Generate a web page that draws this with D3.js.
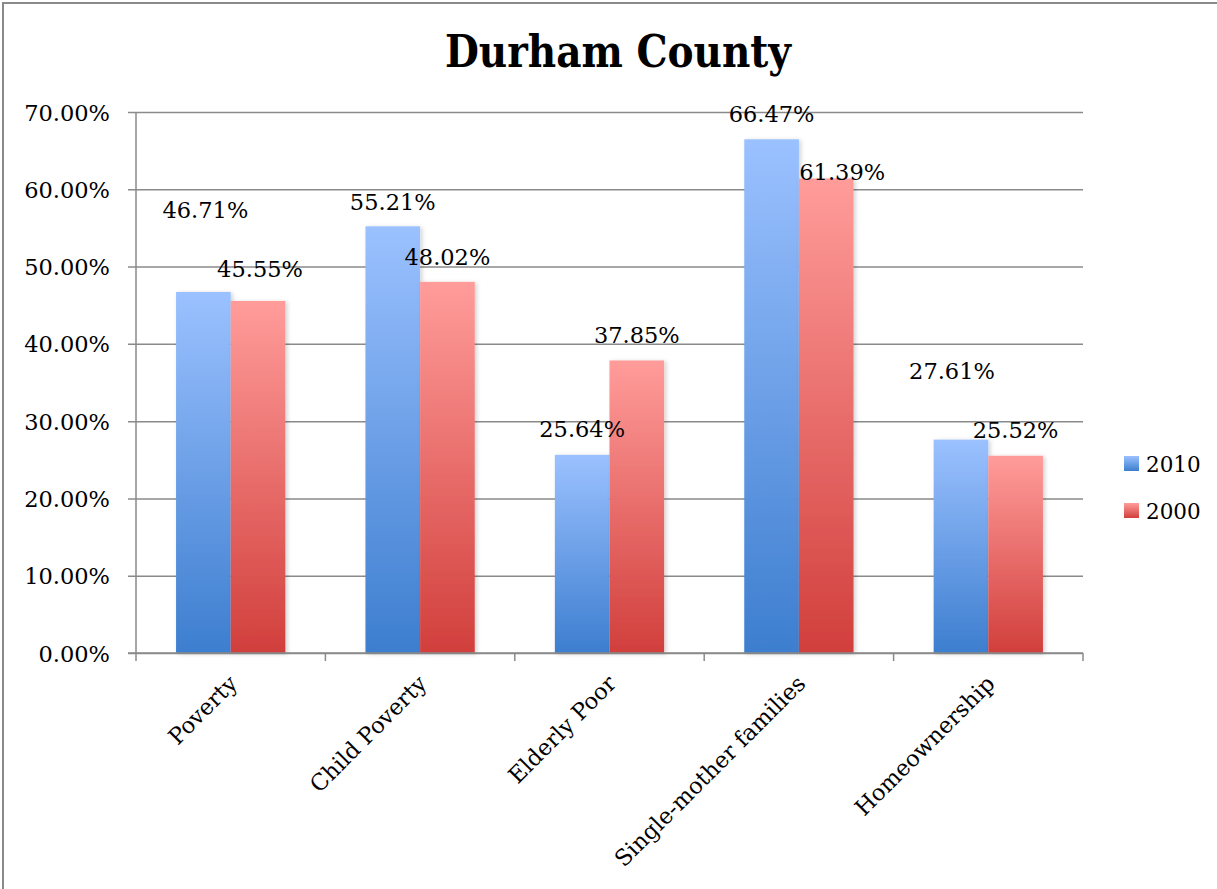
<!DOCTYPE html>
<html>
<head>
<meta charset="utf-8">
<script src="https://cdn.jsdelivr.net/npm/d3@7"></script>
<style>
  html, body { margin: 0; padding: 0; background: #fff; }
  svg { display: block; }
  text { font-family: "DejaVu Serif", "Liberation Serif", serif; fill: #000; }
</style>
</head>
<body>
<script>
// ---- data ----
const title = "Durham County";
const categories = ["Poverty", "Child Poverty", "Elderly Poor", "Single-mother families", "Homeownership"];
const seriesNames = ["2010", "2000"];
const values2010 = [46.71, 55.21, 25.64, 66.47, 27.61];
const values2000 = [45.55, 48.02, 37.85, 61.39, 25.52];
const yTicks = [0, 10, 20, 30, 40, 50, 60, 70];

// ---- layout (label nudges in px, per category: [2010, 2000]) ----
const labelNudge = [
  [[2, -74], [2, -24]],
  [[0, -16], [0, -17]],
  [[0, -18], [0, -17]],
  [[0, -17], [16, 1.5]],
  [[-9, -61], [0, -18]]
];

const W = 1217, H = 889;
const m = { left: 136, right: 1083, top: 112, bottom: 653 };

const svg = d3.select("body").append("svg").attr("width", W).attr("height", H);

const defs = svg.append("defs");
const grads = [
  { id: "g2010", top: "#9bc1ff", bottom: "#3d7ecf" },
  { id: "g2000", top: "#ff9c9a", bottom: "#d13f3c" }
];
grads.forEach(g => {
  const lg = defs.append("linearGradient").attr("id", g.id)
    .attr("x1", 0).attr("y1", 0).attr("x2", 0).attr("y2", 1);
  lg.append("stop").attr("offset", "0%").attr("stop-color", g.top);
  lg.append("stop").attr("offset", "100%").attr("stop-color", g.bottom);
});
const f = defs.append("filter").attr("id", "shadow")
  .attr("x", "-20%").attr("y", "-5%").attr("width", "150%").attr("height", "115%");
f.append("feDropShadow").attr("dx", 2).attr("dy", 1).attr("stdDeviation", 2)
  .attr("flood-color", "#000").attr("flood-opacity", 0.18);

// chart frame
svg.append("path")
  .attr("d", `M3,${H + 5} L3,3 L${W + 5},3`)
  .attr("fill", "none").attr("stroke", "#8a8a8a").attr("stroke-width", 2);

const x = d3.scaleBand().domain(categories).range([m.left, m.right]).paddingInner(0).paddingOuter(0);
const groupPad = 0.2115;
const innerW = x.bandwidth() * (1 - 2 * groupPad);
const x1 = d3.scaleBand().domain(seriesNames)
  .range([x.bandwidth() * groupPad, x.bandwidth() * groupPad + innerW]).padding(0);

const y = d3.scaleLinear().domain([0, 70]).range([m.bottom, m.top]);

// gridlines + y axis labels
const yAxis = d3.axisLeft(y).tickValues(yTicks)
  .tickSize(-(m.right - m.left + 8)).tickPadding(18)
  .tickFormat(d => d.toFixed(2) + "%");
const gy = svg.append("g").attr("transform", `translate(${m.left - 8},0)`).call(yAxis);
gy.select(".domain").remove();
gy.selectAll(".tick line").attr("stroke", "#8a8a8a").attr("stroke-width", 1.5);
gy.selectAll(".tick text").attr("font-size", 22.5)
  .style("font-family", '"DejaVu Serif", serif').attr("fill", "#000").attr("dy", "0.36em");

// y axis line
svg.append("line").attr("x1", m.left).attr("x2", m.left).attr("y1", m.top).attr("y2", m.bottom)
  .attr("stroke", "#8a8a8a").attr("stroke-width", 1.5);

// bars
const rows = categories.map((c, i) => ({ cat: c, i, vals: [values2010[i], values2000[i]] }));
const groups = svg.append("g").selectAll("g").data(rows).join("g")
  .attr("transform", d => `translate(${x(d.cat)},0)`);
groups.selectAll("rect").data(d => d.vals.map((v, k) => ({ v, k, s: seriesNames[k] })))
  .join("rect")
  .attr("x", d => x1(d.s)).attr("width", x1.bandwidth())
  .attr("y", d => y(d.v)).attr("height", d => y(0) - y(d.v))
  .attr("fill", d => `url(#${grads[d.k].id})`)
  .attr("filter", "url(#shadow)");

// x axis
const xAxis = d3.axisBottom(x).tickSize(0).tickFormat("");
const gx = svg.append("g").attr("transform", `translate(0,${m.bottom})`).call(xAxis);
gx.select(".domain").attr("stroke", "#8a8a8a").attr("stroke-width", 1.5)
  .attr("d", `M${m.left - 8},0H${m.right}`);
const bounds = categories.map(c => x(c)).concat([x(categories[categories.length - 1]) + x.bandwidth()]);
svg.append("g").selectAll("line").data(bounds).join("line")
  .attr("x1", d => d).attr("x2", d => d).attr("y1", m.bottom).attr("y2", m.bottom + 8)
  .attr("stroke", "#8a8a8a").attr("stroke-width", 1.5);

// category labels
svg.append("g").selectAll("text").data(categories).join("text")
  .attr("transform", d => `translate(${x(d) + x.bandwidth() / 2 + 8},${m.bottom + 32}) rotate(-45)`)
  .attr("text-anchor", "end").attr("font-size", 22.5).text(d => d);

// data labels
groups.selectAll("text.lbl").data(d => d.vals.map((v, k) => ({ v, k, s: seriesNames[k], i: d.i })))
  .join("text").attr("class", "lbl")
  .attr("x", d => x1(d.s) + x1.bandwidth() / 2 + labelNudge[d.i][d.k][0])
  .attr("y", d => y(d.v) + labelNudge[d.i][d.k][1])
  .attr("text-anchor", "middle").attr("font-size", 22.5)
  .text(d => d.v.toFixed(2) + "%");

// title
svg.append("text").attr("x", 618).attr("y", 67).attr("text-anchor", "middle")
  .attr("font-size", 44).attr("font-weight", "bold")
  .attr("textLength", 346).attr("lengthAdjust", "spacingAndGlyphs")
  .text(title);

// legend
const lg = svg.append("g").selectAll("g").data(seriesNames).join("g")
  .attr("transform", (d, i) => `translate(1124,${456 + i * 47})`);
lg.append("rect").attr("width", 15).attr("height", 15)
  .attr("fill", (d, i) => `url(#${grads[i].id})`);
lg.append("text").attr("x", 22).attr("y", 16).attr("font-size", 21.5).text(d => d);
</script>
</body>
</html>
